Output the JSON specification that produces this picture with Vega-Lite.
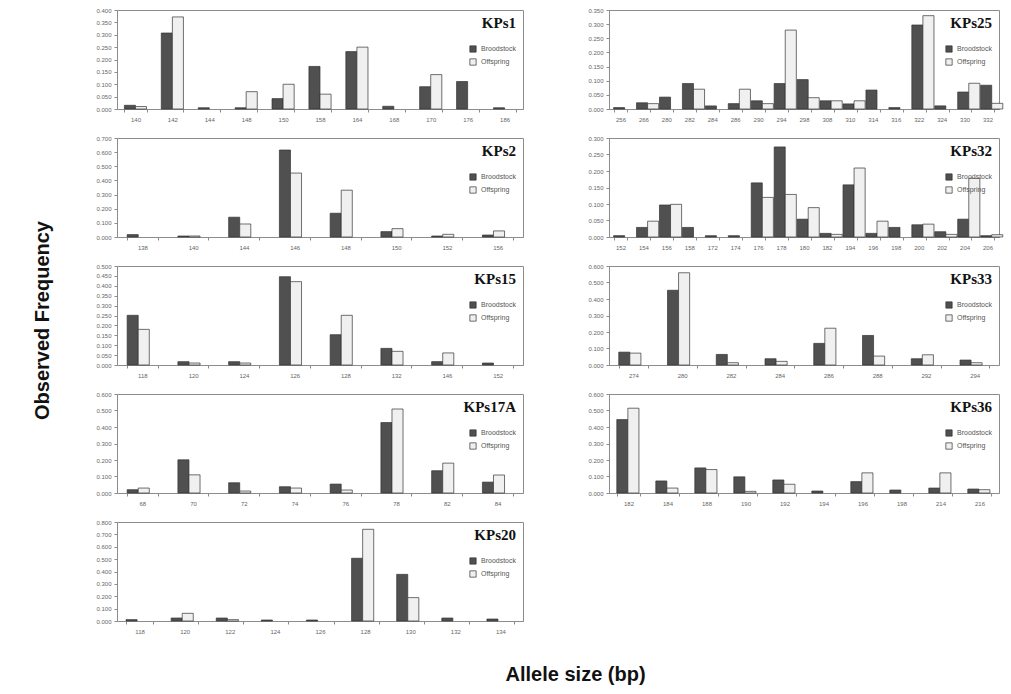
{
  "$schema": "https://vega.github.io/schema/vega-lite/v6.json",
  "padding": {"left": 33, "top": 6, "right": 5, "bottom": 3},
  "background": "white",
  "title": {"text": "Allele size (bp)", "orient": "bottom", "anchor": "middle", "offset": 30, "font": "Liberation Sans", "fontSize": 20, "fontWeight": "bold", "color": "#111", "dx": 57},
  "data": {"values": [
    {"locus":"KPs1","allele":140,"group":"Broodstock","freq":0.015},
    {"locus":"KPs1","allele":140,"group":"Offspring","freq":0.01},
    {"locus":"KPs1","allele":142,"group":"Broodstock","freq":0.307},
    {"locus":"KPs1","allele":142,"group":"Offspring","freq":0.372},
    {"locus":"KPs1","allele":144,"group":"Broodstock","freq":0.005},
    {"locus":"KPs1","allele":148,"group":"Broodstock","freq":0.005},
    {"locus":"KPs1","allele":148,"group":"Offspring","freq":0.07},
    {"locus":"KPs1","allele":150,"group":"Broodstock","freq":0.042},
    {"locus":"KPs1","allele":150,"group":"Offspring","freq":0.1},
    {"locus":"KPs1","allele":158,"group":"Broodstock","freq":0.172},
    {"locus":"KPs1","allele":158,"group":"Offspring","freq":0.06},
    {"locus":"KPs1","allele":164,"group":"Broodstock","freq":0.232},
    {"locus":"KPs1","allele":164,"group":"Offspring","freq":0.25},
    {"locus":"KPs1","allele":168,"group":"Broodstock","freq":0.011},
    {"locus":"KPs1","allele":170,"group":"Broodstock","freq":0.09},
    {"locus":"KPs1","allele":170,"group":"Offspring","freq":0.139},
    {"locus":"KPs1","allele":176,"group":"Broodstock","freq":0.111},
    {"locus":"KPs1","allele":186,"group":"Broodstock","freq":0.005},

    {"locus":"KPs2","allele":138,"group":"Broodstock","freq":0.017},
    {"locus":"KPs2","allele":140,"group":"Broodstock","freq":0.007},
    {"locus":"KPs2","allele":140,"group":"Offspring","freq":0.007},
    {"locus":"KPs2","allele":144,"group":"Broodstock","freq":0.14},
    {"locus":"KPs2","allele":144,"group":"Offspring","freq":0.092},
    {"locus":"KPs2","allele":146,"group":"Broodstock","freq":0.615},
    {"locus":"KPs2","allele":146,"group":"Offspring","freq":0.452},
    {"locus":"KPs2","allele":148,"group":"Broodstock","freq":0.168},
    {"locus":"KPs2","allele":148,"group":"Offspring","freq":0.331},
    {"locus":"KPs2","allele":150,"group":"Broodstock","freq":0.038},
    {"locus":"KPs2","allele":150,"group":"Offspring","freq":0.059},
    {"locus":"KPs2","allele":152,"group":"Broodstock","freq":0.007},
    {"locus":"KPs2","allele":152,"group":"Offspring","freq":0.019},
    {"locus":"KPs2","allele":156,"group":"Broodstock","freq":0.014},
    {"locus":"KPs2","allele":156,"group":"Offspring","freq":0.043},

    {"locus":"KPs15","allele":118,"group":"Broodstock","freq":0.251},
    {"locus":"KPs15","allele":118,"group":"Offspring","freq":0.18},
    {"locus":"KPs15","allele":120,"group":"Broodstock","freq":0.017},
    {"locus":"KPs15","allele":120,"group":"Offspring","freq":0.01},
    {"locus":"KPs15","allele":124,"group":"Broodstock","freq":0.017},
    {"locus":"KPs15","allele":124,"group":"Offspring","freq":0.01},
    {"locus":"KPs15","allele":126,"group":"Broodstock","freq":0.446},
    {"locus":"KPs15","allele":126,"group":"Offspring","freq":0.421},
    {"locus":"KPs15","allele":128,"group":"Broodstock","freq":0.153},
    {"locus":"KPs15","allele":128,"group":"Offspring","freq":0.251},
    {"locus":"KPs15","allele":132,"group":"Broodstock","freq":0.084},
    {"locus":"KPs15","allele":132,"group":"Offspring","freq":0.069},
    {"locus":"KPs15","allele":146,"group":"Broodstock","freq":0.017},
    {"locus":"KPs15","allele":146,"group":"Offspring","freq":0.061},
    {"locus":"KPs15","allele":152,"group":"Broodstock","freq":0.01},

    {"locus":"KPs17A","allele":68,"group":"Broodstock","freq":0.02},
    {"locus":"KPs17A","allele":68,"group":"Offspring","freq":0.03},
    {"locus":"KPs17A","allele":70,"group":"Broodstock","freq":0.201},
    {"locus":"KPs17A","allele":70,"group":"Offspring","freq":0.11},
    {"locus":"KPs17A","allele":72,"group":"Broodstock","freq":0.062},
    {"locus":"KPs17A","allele":72,"group":"Offspring","freq":0.012},
    {"locus":"KPs17A","allele":74,"group":"Broodstock","freq":0.038},
    {"locus":"KPs17A","allele":74,"group":"Offspring","freq":0.03},
    {"locus":"KPs17A","allele":76,"group":"Broodstock","freq":0.054},
    {"locus":"KPs17A","allele":76,"group":"Offspring","freq":0.018},
    {"locus":"KPs17A","allele":78,"group":"Broodstock","freq":0.427},
    {"locus":"KPs17A","allele":78,"group":"Offspring","freq":0.509},
    {"locus":"KPs17A","allele":82,"group":"Broodstock","freq":0.135},
    {"locus":"KPs17A","allele":82,"group":"Offspring","freq":0.181},
    {"locus":"KPs17A","allele":84,"group":"Broodstock","freq":0.066},
    {"locus":"KPs17A","allele":84,"group":"Offspring","freq":0.109},

    {"locus":"KPs20","allele":118,"group":"Broodstock","freq":0.011},
    {"locus":"KPs20","allele":120,"group":"Broodstock","freq":0.024},
    {"locus":"KPs20","allele":120,"group":"Offspring","freq":0.062},
    {"locus":"KPs20","allele":122,"group":"Broodstock","freq":0.024},
    {"locus":"KPs20","allele":122,"group":"Offspring","freq":0.011},
    {"locus":"KPs20","allele":124,"group":"Broodstock","freq":0.008},
    {"locus":"KPs20","allele":126,"group":"Broodstock","freq":0.008},
    {"locus":"KPs20","allele":128,"group":"Broodstock","freq":0.507},
    {"locus":"KPs20","allele":128,"group":"Offspring","freq":0.741},
    {"locus":"KPs20","allele":130,"group":"Broodstock","freq":0.377},
    {"locus":"KPs20","allele":130,"group":"Offspring","freq":0.189},
    {"locus":"KPs20","allele":132,"group":"Broodstock","freq":0.024},
    {"locus":"KPs20","allele":134,"group":"Broodstock","freq":0.016},

    {"locus":"KPs25","allele":256,"group":"Broodstock","freq":0.005},
    {"locus":"KPs25","allele":266,"group":"Broodstock","freq":0.022},
    {"locus":"KPs25","allele":266,"group":"Offspring","freq":0.019},
    {"locus":"KPs25","allele":280,"group":"Broodstock","freq":0.042},
    {"locus":"KPs25","allele":282,"group":"Broodstock","freq":0.09},
    {"locus":"KPs25","allele":282,"group":"Offspring","freq":0.07},
    {"locus":"KPs25","allele":284,"group":"Broodstock","freq":0.011},
    {"locus":"KPs25","allele":286,"group":"Broodstock","freq":0.019},
    {"locus":"KPs25","allele":286,"group":"Offspring","freq":0.07},
    {"locus":"KPs25","allele":290,"group":"Broodstock","freq":0.029},
    {"locus":"KPs25","allele":290,"group":"Offspring","freq":0.019},
    {"locus":"KPs25","allele":294,"group":"Broodstock","freq":0.09},
    {"locus":"KPs25","allele":294,"group":"Offspring","freq":0.279},
    {"locus":"KPs25","allele":298,"group":"Broodstock","freq":0.104},
    {"locus":"KPs25","allele":298,"group":"Offspring","freq":0.04},
    {"locus":"KPs25","allele":308,"group":"Broodstock","freq":0.029},
    {"locus":"KPs25","allele":308,"group":"Offspring","freq":0.029},
    {"locus":"KPs25","allele":310,"group":"Broodstock","freq":0.018},
    {"locus":"KPs25","allele":310,"group":"Offspring","freq":0.029},
    {"locus":"KPs25","allele":314,"group":"Broodstock","freq":0.067},
    {"locus":"KPs25","allele":316,"group":"Broodstock","freq":0.005},
    {"locus":"KPs25","allele":322,"group":"Broodstock","freq":0.297},
    {"locus":"KPs25","allele":322,"group":"Offspring","freq":0.33},
    {"locus":"KPs25","allele":324,"group":"Broodstock","freq":0.011},
    {"locus":"KPs25","allele":330,"group":"Broodstock","freq":0.06},
    {"locus":"KPs25","allele":330,"group":"Offspring","freq":0.091},
    {"locus":"KPs25","allele":332,"group":"Broodstock","freq":0.084},
    {"locus":"KPs25","allele":332,"group":"Offspring","freq":0.02},

    {"locus":"KPs32","allele":152,"group":"Broodstock","freq":0.004},
    {"locus":"KPs32","allele":154,"group":"Broodstock","freq":0.029},
    {"locus":"KPs32","allele":154,"group":"Offspring","freq":0.048},
    {"locus":"KPs32","allele":156,"group":"Broodstock","freq":0.097},
    {"locus":"KPs32","allele":156,"group":"Offspring","freq":0.099},
    {"locus":"KPs32","allele":158,"group":"Broodstock","freq":0.029},
    {"locus":"KPs32","allele":172,"group":"Broodstock","freq":0.004},
    {"locus":"KPs32","allele":174,"group":"Broodstock","freq":0.004},
    {"locus":"KPs32","allele":176,"group":"Broodstock","freq":0.164},
    {"locus":"KPs32","allele":176,"group":"Offspring","freq":0.12},
    {"locus":"KPs32","allele":178,"group":"Broodstock","freq":0.273},
    {"locus":"KPs32","allele":178,"group":"Offspring","freq":0.129},
    {"locus":"KPs32","allele":180,"group":"Broodstock","freq":0.054},
    {"locus":"KPs32","allele":180,"group":"Offspring","freq":0.089},
    {"locus":"KPs32","allele":182,"group":"Broodstock","freq":0.011},
    {"locus":"KPs32","allele":182,"group":"Offspring","freq":0.008},
    {"locus":"KPs32","allele":194,"group":"Broodstock","freq":0.158},
    {"locus":"KPs32","allele":194,"group":"Offspring","freq":0.209},
    {"locus":"KPs32","allele":196,"group":"Broodstock","freq":0.011},
    {"locus":"KPs32","allele":196,"group":"Offspring","freq":0.048},
    {"locus":"KPs32","allele":198,"group":"Broodstock","freq":0.029},
    {"locus":"KPs32","allele":200,"group":"Broodstock","freq":0.037},
    {"locus":"KPs32","allele":200,"group":"Offspring","freq":0.039},
    {"locus":"KPs32","allele":202,"group":"Broodstock","freq":0.016},
    {"locus":"KPs32","allele":202,"group":"Offspring","freq":0.008},
    {"locus":"KPs32","allele":204,"group":"Broodstock","freq":0.054},
    {"locus":"KPs32","allele":204,"group":"Offspring","freq":0.178},
    {"locus":"KPs32","allele":206,"group":"Broodstock","freq":0.004},
    {"locus":"KPs32","allele":206,"group":"Offspring","freq":0.007},

    {"locus":"KPs33","allele":274,"group":"Broodstock","freq":0.078},
    {"locus":"KPs33","allele":274,"group":"Offspring","freq":0.072},
    {"locus":"KPs33","allele":280,"group":"Broodstock","freq":0.453},
    {"locus":"KPs33","allele":280,"group":"Offspring","freq":0.559},
    {"locus":"KPs33","allele":282,"group":"Broodstock","freq":0.064},
    {"locus":"KPs33","allele":282,"group":"Offspring","freq":0.014},
    {"locus":"KPs33","allele":284,"group":"Broodstock","freq":0.038},
    {"locus":"KPs33","allele":284,"group":"Offspring","freq":0.022},
    {"locus":"KPs33","allele":286,"group":"Broodstock","freq":0.131},
    {"locus":"KPs33","allele":286,"group":"Offspring","freq":0.223},
    {"locus":"KPs33","allele":288,"group":"Broodstock","freq":0.179},
    {"locus":"KPs33","allele":288,"group":"Offspring","freq":0.054},
    {"locus":"KPs33","allele":292,"group":"Broodstock","freq":0.038},
    {"locus":"KPs33","allele":292,"group":"Offspring","freq":0.062},
    {"locus":"KPs33","allele":294,"group":"Broodstock","freq":0.03},
    {"locus":"KPs33","allele":294,"group":"Offspring","freq":0.014},

    {"locus":"KPs36","allele":182,"group":"Broodstock","freq":0.445},
    {"locus":"KPs36","allele":182,"group":"Offspring","freq":0.514},
    {"locus":"KPs36","allele":184,"group":"Broodstock","freq":0.073},
    {"locus":"KPs36","allele":184,"group":"Offspring","freq":0.03},
    {"locus":"KPs36","allele":188,"group":"Broodstock","freq":0.152},
    {"locus":"KPs36","allele":188,"group":"Offspring","freq":0.142},
    {"locus":"KPs36","allele":190,"group":"Broodstock","freq":0.098},
    {"locus":"KPs36","allele":190,"group":"Offspring","freq":0.01},
    {"locus":"KPs36","allele":192,"group":"Broodstock","freq":0.079},
    {"locus":"KPs36","allele":192,"group":"Offspring","freq":0.053},
    {"locus":"KPs36","allele":194,"group":"Broodstock","freq":0.012},
    {"locus":"KPs36","allele":196,"group":"Broodstock","freq":0.069},
    {"locus":"KPs36","allele":196,"group":"Offspring","freq":0.122},
    {"locus":"KPs36","allele":198,"group":"Broodstock","freq":0.018},
    {"locus":"KPs36","allele":214,"group":"Broodstock","freq":0.03},
    {"locus":"KPs36","allele":214,"group":"Offspring","freq":0.122},
    {"locus":"KPs36","allele":216,"group":"Broodstock","freq":0.024},
    {"locus":"KPs36","allele":216,"group":"Offspring","freq":0.02}
  ]},
  "resolve": {"scale": {"color": "independent"}, "legend": {"color": "independent"}},
  "hconcat": [
    {
      "title": {"text": "Observed Frequency", "orient": "left", "anchor": "middle", "offset": 42, "font": "Liberation Sans Narrow, Liberation Sans", "fontSize": 20, "fontWeight": "bold", "color": "#111"},
      "spacing": 63,
      "resolve": {"scale": {"color": "independent"}, "legend": {"color": "independent"}},
      "hconcat": [
        {
          "spacing": 11,
          "resolve": {"scale": {"color": "independent"}, "legend": {"color": "independent"}},
          "vconcat": [
            {
              "width": 406, "height": 99,
              "transform": [{"filter": "datum.locus === 'KPs1'"}],
              "mark": {"type": "bar", "stroke": "#333", "strokeWidth": 0.7},
              "encoding": {
                "x": {"field": "allele", "type": "ordinal", "title": null, "scale": {"paddingInner": 0.4, "paddingOuter": 0.2}},
                "xOffset": {"field": "group", "type": "nominal", "scale": {"domain": ["Broodstock", "Offspring"]}},
                "y": {"field": "freq", "type": "quantitative", "title": null, "scale": {"domain": [0, 0.4]}, "axis": {"values": [0, 0.05, 0.1, 0.15, 0.2, 0.25, 0.3, 0.35, 0.4]}},
                "color": {"field": "group", "type": "nominal", "scale": {"domain": ["Broodstock", "Offspring"], "range": ["#505050", "#f0f0f0"]}, "legend": {"title": "KPs1"}}
              }
            },
            {
              "width": 406, "height": 99,
              "transform": [{"filter": "datum.locus === 'KPs2'"}],
              "mark": {"type": "bar", "stroke": "#333", "strokeWidth": 0.7},
              "encoding": {
                "x": {"field": "allele", "type": "ordinal", "title": null, "scale": {"paddingInner": 0.4, "paddingOuter": 0.2}},
                "xOffset": {"field": "group", "type": "nominal", "scale": {"domain": ["Broodstock", "Offspring"]}},
                "y": {"field": "freq", "type": "quantitative", "title": null, "scale": {"domain": [0, 0.7]}, "axis": {"values": [0, 0.1, 0.2, 0.3, 0.4, 0.5, 0.6, 0.7]}},
                "color": {"field": "group", "type": "nominal", "scale": {"domain": ["Broodstock", "Offspring"], "range": ["#505050", "#f0f0f0"]}, "legend": {"title": "KPs2"}}
              }
            },
            {
              "width": 406, "height": 99,
              "transform": [{"filter": "datum.locus === 'KPs15'"}],
              "mark": {"type": "bar", "stroke": "#333", "strokeWidth": 0.7},
              "encoding": {
                "x": {"field": "allele", "type": "ordinal", "title": null, "scale": {"paddingInner": 0.4, "paddingOuter": 0.2}},
                "xOffset": {"field": "group", "type": "nominal", "scale": {"domain": ["Broodstock", "Offspring"]}},
                "y": {"field": "freq", "type": "quantitative", "title": null, "scale": {"domain": [0, 0.5]}, "axis": {"values": [0, 0.05, 0.1, 0.15, 0.2, 0.25, 0.3, 0.35, 0.4, 0.45, 0.5]}},
                "color": {"field": "group", "type": "nominal", "scale": {"domain": ["Broodstock", "Offspring"], "range": ["#505050", "#f0f0f0"]}, "legend": {"title": "KPs15"}}
              }
            },
            {
              "width": 406, "height": 99,
              "transform": [{"filter": "datum.locus === 'KPs17A'"}],
              "mark": {"type": "bar", "stroke": "#333", "strokeWidth": 0.7},
              "encoding": {
                "x": {"field": "allele", "type": "ordinal", "title": null, "scale": {"paddingInner": 0.4, "paddingOuter": 0.2}},
                "xOffset": {"field": "group", "type": "nominal", "scale": {"domain": ["Broodstock", "Offspring"]}},
                "y": {"field": "freq", "type": "quantitative", "title": null, "scale": {"domain": [0, 0.6]}, "axis": {"values": [0, 0.1, 0.2, 0.3, 0.4, 0.5, 0.6]}},
                "color": {"field": "group", "type": "nominal", "scale": {"domain": ["Broodstock", "Offspring"], "range": ["#505050", "#f0f0f0"]}, "legend": {"title": "KPs17A"}}
              }
            },
            {
              "width": 406, "height": 99,
              "transform": [{"filter": "datum.locus === 'KPs20'"}],
              "mark": {"type": "bar", "stroke": "#333", "strokeWidth": 0.7},
              "encoding": {
                "x": {"field": "allele", "type": "ordinal", "title": null, "scale": {"paddingInner": 0.4, "paddingOuter": 0.2}},
                "xOffset": {"field": "group", "type": "nominal", "scale": {"domain": ["Broodstock", "Offspring"]}},
                "y": {"field": "freq", "type": "quantitative", "title": null, "scale": {"domain": [0, 0.8]}, "axis": {"values": [0, 0.1, 0.2, 0.3, 0.4, 0.5, 0.6, 0.7, 0.8]}},
                "color": {"field": "group", "type": "nominal", "scale": {"domain": ["Broodstock", "Offspring"], "range": ["#505050", "#f0f0f0"]}, "legend": {"title": "KPs20"}}
              }
            }
          ]
        },
        {
          "spacing": 11,
          "resolve": {"scale": {"color": "independent"}, "legend": {"color": "independent"}},
          "vconcat": [
            {
              "width": 390, "height": 99,
              "transform": [{"filter": "datum.locus === 'KPs25'"}],
              "mark": {"type": "bar", "stroke": "#333", "strokeWidth": 0.7},
              "encoding": {
                "x": {"field": "allele", "type": "ordinal", "title": null, "scale": {"paddingInner": 0.4, "paddingOuter": 0.2}},
                "xOffset": {"field": "group", "type": "nominal", "scale": {"domain": ["Broodstock", "Offspring"]}},
                "y": {"field": "freq", "type": "quantitative", "title": null, "scale": {"domain": [0, 0.35]}, "axis": {"values": [0, 0.05, 0.1, 0.15, 0.2, 0.25, 0.3, 0.35]}},
                "color": {"field": "group", "type": "nominal", "scale": {"domain": ["Broodstock", "Offspring"], "range": ["#505050", "#f0f0f0"]}, "legend": {"title": "KPs25"}}
              }
            },
            {
              "width": 390, "height": 99,
              "transform": [{"filter": "datum.locus === 'KPs32'"}],
              "mark": {"type": "bar", "stroke": "#333", "strokeWidth": 0.7},
              "encoding": {
                "x": {"field": "allele", "type": "ordinal", "title": null, "scale": {"paddingInner": 0.4, "paddingOuter": 0.2}},
                "xOffset": {"field": "group", "type": "nominal", "scale": {"domain": ["Broodstock", "Offspring"]}},
                "y": {"field": "freq", "type": "quantitative", "title": null, "scale": {"domain": [0, 0.3]}, "axis": {"values": [0, 0.05, 0.1, 0.15, 0.2, 0.25, 0.3]}},
                "color": {"field": "group", "type": "nominal", "scale": {"domain": ["Broodstock", "Offspring"], "range": ["#505050", "#f0f0f0"]}, "legend": {"title": "KPs32"}}
              }
            },
            {
              "width": 390, "height": 99,
              "transform": [{"filter": "datum.locus === 'KPs33'"}],
              "mark": {"type": "bar", "stroke": "#333", "strokeWidth": 0.7},
              "encoding": {
                "x": {"field": "allele", "type": "ordinal", "title": null, "scale": {"paddingInner": 0.4, "paddingOuter": 0.2}},
                "xOffset": {"field": "group", "type": "nominal", "scale": {"domain": ["Broodstock", "Offspring"]}},
                "y": {"field": "freq", "type": "quantitative", "title": null, "scale": {"domain": [0, 0.6]}, "axis": {"values": [0, 0.1, 0.2, 0.3, 0.4, 0.5, 0.6]}},
                "color": {"field": "group", "type": "nominal", "scale": {"domain": ["Broodstock", "Offspring"], "range": ["#505050", "#f0f0f0"]}, "legend": {"title": "KPs33"}}
              }
            },
            {
              "width": 390, "height": 99,
              "transform": [{"filter": "datum.locus === 'KPs36'"}],
              "mark": {"type": "bar", "stroke": "#333", "strokeWidth": 0.7},
              "encoding": {
                "x": {"field": "allele", "type": "ordinal", "title": null, "scale": {"paddingInner": 0.4, "paddingOuter": 0.2}},
                "xOffset": {"field": "group", "type": "nominal", "scale": {"domain": ["Broodstock", "Offspring"]}},
                "y": {"field": "freq", "type": "quantitative", "title": null, "scale": {"domain": [0, 0.6]}, "axis": {"values": [0, 0.1, 0.2, 0.3, 0.4, 0.5, 0.6]}},
                "color": {"field": "group", "type": "nominal", "scale": {"domain": ["Broodstock", "Offspring"], "range": ["#505050", "#f0f0f0"]}, "legend": {"title": "KPs36"}}
              }
            }
          ]
        }
      ]
    }
  ],
  "config": {
    "view": {"stroke": "#8c8c8c", "strokeWidth": 1},
    "axis": {"labelFont": "Liberation Sans", "labelFontSize": 6, "labelColor": "#666", "domainColor": "#8c8c8c", "tickColor": "#8c8c8c", "grid": false, "tickSize": 3},
    "axisX": {"labelAngle": 0, "tickBand": "extent", "labelPadding": 4},
    "axisY": {"format": ".3f", "labelPadding": 3},
    "legend": {"orient": "top-right", "offset": 6, "padding": 0, "titleFont": "Liberation Serif", "titleFontSize": 15, "titleFontWeight": "bold", "titleColor": "#111", "titleAlign": "right", "titleAnchor": "end", "titlePadding": 14, "labelFont": "Liberation Sans", "labelFontSize": 7, "labelColor": "#555", "symbolType": "square", "symbolSize": 40, "symbolStrokeColor": "#333", "symbolStrokeWidth": 0.7, "rowPadding": 3}
  }
}
